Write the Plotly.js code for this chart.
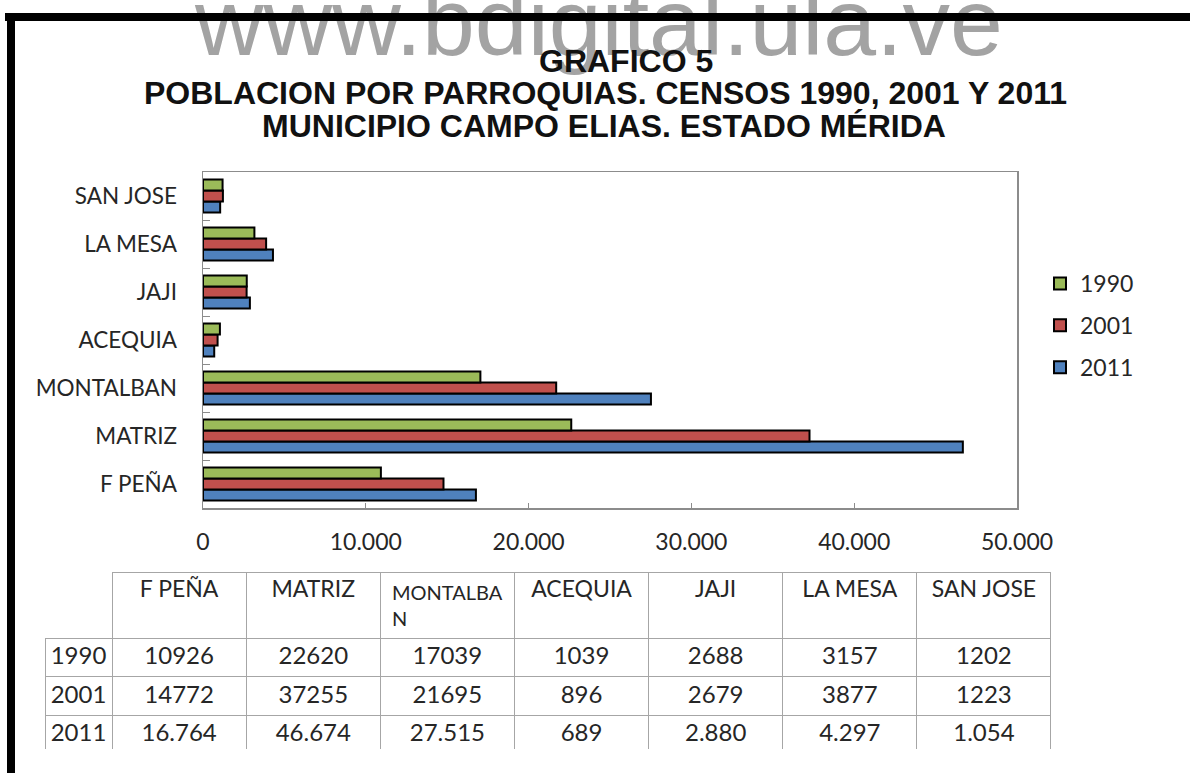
<!DOCTYPE html>
<html>
<head>
<meta charset="utf-8">
<script src="https://cdn.plot.ly/plotly-3.0.1.min.js"></script>
<style>html,body{margin:0;padding:0;background:#fff;}#chart{width:1190px;height:773px;}</style>
</head>
<body>
<div id="chart"></div>
<script>
// ---- data ----
const categories = ['F PEÑA','MATRIZ','MONTALBAN','ACEQUIA','JAJI','LA MESA','SAN JOSE'];
const years = ['1990','2001','2011'];
const v1990 = [10926,22620,17039,1039,2688,3157,1202];
const v2001 = [14772,37255,21695,896,2679,3877,1223];
const v2011 = [16764,46674,27515,689,2880,4297,1054];
const tableHeader = ['', 'F PEÑA','MATRIZ','MONTALBA<br>N','ACEQUIA','JAJI','LA MESA','SAN JOSE'];
const xTickVals = [0,10000,20000,30000,40000,50000];
const titleLines = ['GRAFICO 5','POBLACION POR PARROQUIAS. CENSOS 1990, 2001 Y 2011','MUNICIPIO CAMPO ELIAS. ESTADO MÉRIDA'];
const watermark = 'www.bdigital.ula.ve';

// ---- helpers ----
const W = 1190, H = 773;
const M = {l:45, r:139, t:160, b:20};
const PW = W - M.l - M.r, PH = H - M.t - M.b;
const px = p => (p - M.l) / PW;
const py = p => (M.t + PH - p) / PH;
const dotted = n => String(n).replace(/\B(?=(\d{3})+(?!\d))/g, '.');

const colors = {'1990':'#9BBB59','2001':'#C0504D','2011':'#4F81BD'};
const seriesVals = {'1990':v1990,'2001':v2001,'2011':v2011};
const font = 'Lato, "Open Sans", sans-serif';
const textColor = '#262626';
const gridGray = '#a6a6a6';

// drawn bottom-to-top within each category: 2011, 2001, 1990 (1990 on top)
const traces = ['2011','2001','1990'].map(y => ({
  type:'bar', orientation:'h', name:y, legendgroup:y,
  legendrank: years.indexOf(y) + 1,
  y:categories, x:seriesVals[y],
  marker:{color:colors[y], line:{color:'#000', width:2}},
  hoverinfo:'x+name'
}));

const headerLineColors = tableHeader.map((h,i) => i === 0 ? 'rgba(0,0,0,0)' : gridGray);
const headerSizes = tableHeader.map(h => h.indexOf('<br>') >= 0 ? 20 : 23);

const tableTrace = {
  type:'table',
  domain:{x:[px(45), px(1051)], y:[py(750), py(572)]},
  columnwidth:[67,134,134,134,134,134,134,134],
  header:{
    values: tableHeader,
    align:'center', height:60,
    line:{color:headerLineColors, width:1},
    fill:{color:'#fff'},
    font:{family:font, size:headerSizes, color:textColor}
  },
  cells:{
    values: [years].concat(categories.map((c,i)=>[String(v1990[i]), String(v2001[i]), dotted(v2011[i])])),
    align:'center', height:38.5,
    line:{color:gridGray, width:1},
    fill:{color:'#fff'},
    font:{family:font, size:24, color:textColor}
  }
};

const annotations = [];
// watermark
annotations.push({
  text:watermark, xref:'paper', yref:'paper', x:px(598), y:py(77),
  xanchor:'center', yanchor:'bottom', showarrow:false,
  font:{family:'Arial, "Liberation Sans", sans-serif', size:95, color:'#a3a3a3'}
});
// black frame bar drawn over the watermark
annotations.push({
  text:' ', xref:'paper', yref:'paper', x:px(5), y:py(13),
  xanchor:'left', yanchor:'top', showarrow:false,
  width:1190, height:8, borderpad:0, borderwidth:0, bgcolor:'#000',
  font:{size:6, color:'#000'}
});
const titleY = [61, 93, 126];
const titleX = [626, 605, 604];
titleLines.forEach((t,i)=>annotations.push({
  text:t, xref:'paper', yref:'paper', x:px(titleX[i]), y:py(titleY[i]),
  xanchor:'center', yanchor:'middle', showarrow:false,
  font:{family:'Arial, "Liberation Sans", sans-serif', size:32, weight:'bold', color:'#111'}
}));

const shapes = [
  {type:'rect', xref:'paper', yref:'paper', x0:px(7), x1:px(15), y0:py(775), y1:py(13), fillcolor:'#000', line:{width:0}, layer:'below'}
];

const layout = {
  width:W, height:H, margin:M,
  paper_bgcolor:'#fff', plot_bgcolor:'#fff',
  separators:',.',
  barmode:'group', bargap:0.31, bargroupgap:0,
  showlegend:true,
  legend:{x:px(1040), y:py(262), xanchor:'left', yanchor:'top', traceorder:'grouped',
          tracegroupgap:9, font:{family:font, size:23, color:textColor}, bgcolor:'rgba(0,0,0,0)'},
  xaxis:{domain:[px(203), px(1017)], range:[0,50000], tickvals:xTickVals, tickformat:',d',
         showgrid:false, zeroline:false, showline:true, mirror:true, linecolor:'#8c8c8c', linewidth:1.5,
         ticks:'inside', ticklen:5, tickcolor:'#8c8c8c', ticklabelstandoff:13,
         tickfont:{family:font, size:23, color:textColor}, fixedrange:true},
  yaxis:{domain:[py(508), py(172)], type:'category', categoryorder:'array', categoryarray:categories,
         showgrid:false, zeroline:false, showline:true, mirror:true, linecolor:'#8c8c8c', linewidth:1.5,
         ticks:'inside', tickson:'boundaries', ticklen:7, tickcolor:'#8c8c8c', ticklabelstandoff:20,
         tickfont:{family:font, size:22.5, color:textColor}, fixedrange:true},
  annotations, shapes
};

Plotly.newPlot('chart', traces.concat([tableTrace]), layout, {displayModeBar:false, staticPlot:true});
</script>
</body>
</html>
